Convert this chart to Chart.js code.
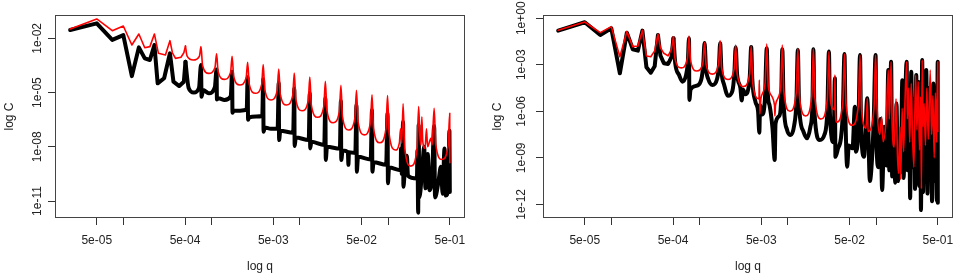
<!DOCTYPE html>
<html>
<head>
<meta charset="utf-8">
<script src="https://cdn.jsdelivr.net/npm/chart.js@4.4.1/dist/chart.umd.min.js"></script>
<style>
  html, body { margin: 0; padding: 0; background: #fff; overflow: hidden; }
  #wrap { position: relative; width: 957px; height: 276px; }
  .panel { position: absolute; top: 0; height: 276px; }
  #left { left: 0; width: 478px; }
  #right { left: 478px; width: 479px; }
</style>
</head>
<body>
<div id="wrap">
  <div class="panel" id="left"><canvas id="chartLeft" width="478" height="276"></canvas></div>
  <div class="panel" id="right"><canvas id="chartRight" width="479" height="276"></canvas></div>
</div>
<script>
// axis ticks
const xTickValues = [5e-5, 1e-4, 5e-4, 1e-3, 5e-3, 1e-2, 5e-2, 1e-1, 5e-1];
const xTickLabels = ['5e-05', '', '5e-04', '', '5e-03', '', '5e-02', '', '5e-01'];
const yTickValuesLeft = [1e-2, 1e-5, 1e-8, 1e-11];
const yTickLabelsLeft = ['1e-02', '1e-05', '1e-08', '1e-11'];
const yTickValuesRight = [1, 1e-3, 1e-6, 1e-9, 1e-12];
const yTickLabelsRight = ['1e+00', '1e-03', '1e-06', '1e-09', '1e-12'];

// left panel: q and log10(C)
const qLeftBlack = [
  2.5e-5, 5e-5, 7.5e-5, 1e-4, 1.25e-4, 1.5e-4, 1.75e-4, 2e-4, 2.25e-4, 2.45e-4,
  2.9e-4, 3.375e-4, 3.7e-4, 4.3e-4, 4.85e-4, 5.06e-4, 5.5e-4, 6.3e-4, 7.2e-4, 7.59e-4,
  7.7e-4, 8.0e-4, 9.3e-4, 1.09e-3, 1.139e-3, 1.15e-3, 1.2e-3, 1.4e-3, 1.65e-3, 1.709e-3,
  1.725e-3, 1.78e-3, 2.1e-3, 2.5e-3, 2.563e-3, 2.59e-3, 2.67e-3, 3.2e-3, 3.75e-3, 3.844e-3,
  3.88e-3, 4.0e-3, 4.7e-3, 5.6e-3, 5.767e-3, 5.82e-3, 6.0e-3, 8.4e-3, 8.65e-3, 8.73e-3,
  9.0e-3, 1.26e-2, 1.297e-2, 1.31e-2, 1.35e-2, 1.89e-2, 1.946e-2, 1.965e-2, 2.03e-2, 2.84e-2,
  2.919e-2, 2.945e-2, 3.05e-2, 3.5e-2, 3.55e-2, 3.6e-2, 4.25e-2, 4.379e-2, 4.42e-2, 4.56e-2,
  6.35e-2, 6.568e-2, 6.63e-2, 6.85e-2, 9.5e-2, 9.853e-2, 9.95e-2, 0.1025, 0.139, 0.14,
  0.143, 0.1478, 0.149, 0.154, 0.163, 0.168, 0.212, 0.215, 0.219, 0.2217,
  0.226, 0.245, 0.256, 0.265, 0.281, 0.295, 0.315, 0.3325, 0.34, 0.37,
  0.396, 0.415, 0.435, 0.45, 0.48, 0.495, 0.5
];
const logCLeftBlack = [
  -1.54, -1.17, -2.09, -1.82, -4.09, -2.50, -3.11, -3.2, -2.37, -4.49,
  -4.21, -2.83, -4.40, -4.64, -4.40, -3.3, -4.75, -5.0, -4.75, -3.48,
  -5.23, -4.86, -5.04, -4.7, -3.72, -5.38, -5.32, -5.41, -5.2, -3.85,
  -6.12, -6.0, -6.0, -5.95, -4.16, -6.5, -6.37, -6.33, -6.3, -4.27,
  -7.17, -6.93, -7.0, -7.0, -4.46, -7.63, -7.11, -7.22, -4.77, -7.96,
  -7.48, -7.63, -5.04, -8.09, -7.72, -7.9, -5.32, -8.73, -8.0, -8.1,
  -5.45, -8.73, -8.2, -8.3, -9.0, -8.3, -8.35, -5.69, -9.38, -8.55,
  -8.7, -5.97, -9.38, -8.85, -9.0, -6.15, -10.02, -9.15, -9.3, -8.1,
  -9.5, -6.62, -10.21, -9.45, -8.5, -9.6, -9.75, -8.2, -11.65, -6.80,
  -10.8, -9.0, -8.0, -10.3, -8.4, -10.4, -9.6, -6.85, -10.8, -10.0,
  -9.1, -10.6, -8.1, -10.7, -10.3, -7.11, -10.5
];
const qLeftRed = [
  2.5e-5, 5e-5, 7.5e-5, 1e-4, 1.25e-4, 1.5e-4, 1.75e-4, 2e-4, 2.25e-4, 2.5e-4,
  3e-4, 3.375e-4, 3.6e-4, 3.9e-4, 4.5e-4, 4.85e-4, 5.06e-4, 5.27e-4, 6.2e-4, 7.29e-4,
  7.59e-4, 7.9e-4, 9.3e-4, 1.093e-3, 1.139e-3, 1.186e-3, 1.395e-3, 1.64e-3, 1.709e-3, 1.779e-3,
  2.093e-3, 2.461e-3, 2.563e-3, 2.668e-3, 3.139e-3, 3.691e-3, 3.844e-3, 4.002e-3, 4.708e-3, 5.535e-3,
  5.767e-3, 6.003e-3, 7.063e-3, 8.304e-3, 8.65e-3, 9.005e-3, 1.0594e-2, 1.2456e-2, 1.297e-2, 1.35e-2,
  1.588e-2, 1.868e-2, 1.946e-2, 2.026e-2, 2.383e-2, 2.802e-2, 2.919e-2, 3.039e-2, 3.575e-2, 4.203e-2,
  4.379e-2, 4.559e-2, 5.363e-2, 6.306e-2, 6.568e-2, 6.837e-2, 8.044e-2, 9.458e-2, 9.853e-2, 0.1026,
  0.1207, 0.134, 0.1385, 0.1425, 0.1478, 0.1539, 0.181, 0.2128, 0.2217, 0.229,
  0.236, 0.241, 0.247, 0.262, 0.272, 0.28, 0.305, 0.315, 0.3192, 0.3325,
  0.3461, 0.4072, 0.4788, 0.4988, 0.5
];
const logCLeftRed = [
  -1.49, -0.93, -1.58, -1.32, -2.37, -1.76, -2.52, -2.46, -1.76, -2.83,
  -2.92, -2.13, -2.8, -3.11, -3.05, -2.8, -2.43, -2.97, -3.2, -2.98,
  -2.46, -3.50, -3.94, -3.61, -2.85, -3.84, -4.27, -3.89, -3.0, -4.11,
  -4.58, -4.20, -3.32, -4.52, -5.04, -4.56, -3.45, -4.82, -5.41, -4.90,
  -3.7, -5.09, -5.69, -5.16, -3.92, -5.38, -6.01, -5.45, -4.14, -5.70,
  -6.37, -5.77, -4.38, -5.98, -6.67, -6.05, -4.6, -6.33, -7.07, -6.41,
  -4.88, -6.60, -7.34, -6.67, -5.12, -6.98, -7.78, -6.99, -5.16, -7.27,
  -8.18, -7.8, -7.0, -7.8, -5.62, -8.04, -9.07, -8.08, -5.78, -7.4,
  -7.9, -6.34, -7.7, -8.09, -7.0, -8.0, -7.53, -7.9, -7.42, -5.87,
  -7.85, -8.70, -7.94, -6.15, -8.88
];

// right panel: q and log10(C)
const qRightBlack = [
  2.5e-5, 5e-5, 7.5e-5, 1e-4, 1.25e-4, 1.5e-4, 1.75e-4, 2e-4, 2.25e-4, 2.5e-4,
  2.8e-4, 3.1e-4, 3.375e-4, 3.6e-4, 3.94e-4, 4.4e-4, 4.8e-4, 5.06e-4, 5.3e-4, 5.86e-4,
  6.4e-4, 7.0e-4, 7.35e-4, 7.59e-4, 7.66e-4, 7.9e-4, 9.3e-4, 1.05e-3, 1.1e-3, 1.139e-3,
  1.18e-3, 1.25e-3, 1.4e-3, 1.58e-3, 1.66e-3, 1.709e-3, 1.77e-3, 1.9e-3, 2.1e-3, 2.35e-3,
  2.48e-3, 2.563e-3, 2.66e-3, 2.9e-3, 3.0e-3, 3.1e-3, 3.3e-3, 3.7e-3, 3.844e-3, 3.95e-3,
  4.3e-3, 4.6e-3, 4.75e-3, 4.85e-3, 5.1e-3, 5.5e-3, 5.767e-3, 5.95e-3, 6.2e-3, 6.7e-3,
  7.1e-3, 7.25e-3, 8.0e-3, 8.4e-3, 8.65e-3, 8.95e-3, 9.8e-3, 1.08e-2, 1.18e-2, 1.25e-2,
  1.297e-2, 1.34e-2, 1.5e-2, 1.65e-2, 1.8e-2, 1.9e-2, 1.946e-2, 2.0e-2, 2.3e-2, 2.6e-2,
  2.8e-2, 2.919e-2, 3.0e-2, 3.3e-2, 3.41e-2, 3.46e-2, 3.7e-2, 4.0e-2, 4.2e-2, 4.379e-2,
  4.5e-2, 4.7e-2, 4.9e-2, 5.4e-2, 5.75e-2, 5.9e-2, 6.3e-2, 6.568e-2, 6.75e-2, 7.3e-2,
  7.94e-2, 8.5e-2, 9.0e-2, 9.4e-2, 9.853e-2, 0.101, 0.106, 0.112, 0.117, 0.124,
  0.131, 0.1374, 0.141, 0.1478, 0.152, 0.158, 0.165, 0.17, 0.177, 0.184,
  0.19, 0.198, 0.205, 0.212, 0.2217, 0.227, 0.236, 0.243, 0.25, 0.26,
  0.268, 0.276, 0.285, 0.292, 0.3, 0.308, 0.316, 0.322, 0.3325, 0.34,
  0.35, 0.36, 0.37, 0.382, 0.393, 0.405, 0.418, 0.43, 0.445, 0.46,
  0.475, 0.488, 0.4988, 0.5
];
const logCRightBlack = [
  -0.80, -0.26, -1.08, -0.65, -3.55, -0.93, -2.0, -2.09, -0.80, -3.16,
  -3.51, -3.1, -1.08, -2.4, -2.9, -2.95, -2.5, -1.29, -2.9, -3.66,
  -4.09, -3.7, -2.9, -1.29, -5.27, -4.6, -4.35, -3.9, -3.0, -1.6,
  -3.2, -3.9, -4.3, -3.9, -3.0, -1.61, -3.4, -4.3, -5.0, -4.7,
  -3.5, -1.87, -3.6, -4.5, -5.3, -4.6, -4.9, -3.8, -1.85, -3.9,
  -5.4, -6.0, -7.38, -5.6, -6.2, -5.2, -1.94, -5.0, -5.6, -7.1,
  -9.14, -6.8, -6.3, -5.2, -2.0, -5.4, -7.2, -7.53, -6.9, -5.4,
  -2.04, -5.6, -7.3, -7.74, -7.0, -5.6, -2.0, -6.0, -7.85, -7.5,
  -6.0, -2.15, -6.2, -8.0, -3.87, -8.93, -8.4, -7.7, -6.0, -2.30,
  -6.5, -9.57, -8.2, -8.39, -5.7, -8.6, -7.0, -2.37, -7.0, -8.93,
  -5.16, -10.5, -9.0, -6.5, -2.37, -8.0, -9.6, -6.5, -11.08, -7.0,
  -9.5, -3.34, -9.8, -2.80, -10.2, -8.0, -10.6, -5.5, -10.5, -7.5,
  -9.9, -4.0, -10.3, -6.2, -2.80, -9.8, -4.6, -11.6, -3.45, -9.6,
  -5.2, -11.0, -3.66, -10.1, -4.09, -10.8, -5.06, -12.37, -2.69, -11.2,
  -6.0, -10.4, -3.34, -11.3, -4.5, -10.0, -5.5, -11.8, -4.2, -10.5,
  -7.0, -11.8, -2.80, -11.9
];
const qRightRed = [
  2.5e-5, 5e-5, 7.5e-5, 1e-4, 1.25e-4, 1.5e-4, 1.75e-4, 2e-4, 2.25e-4, 2.5e-4,
  2.8e-4, 3.1e-4, 3.375e-4, 3.6e-4, 3.94e-4, 4.4e-4, 4.8e-4, 5.06e-4, 5.27e-4, 6.2e-4,
  7.29e-4, 7.59e-4, 7.9e-4, 9.3e-4, 1.093e-3, 1.139e-3, 1.186e-3, 1.395e-3, 1.64e-3, 1.709e-3,
  1.779e-3, 2.093e-3, 2.461e-3, 2.563e-3, 2.668e-3, 3.139e-3, 3.691e-3, 3.844e-3, 4.002e-3, 4.708e-3,
  4.75e-3, 4.82e-3, 4.95e-3, 5.535e-3, 5.767e-3, 6.003e-3, 7.063e-3, 7.13e-3, 7.25e-3, 8.304e-3,
  8.65e-3, 9.005e-3, 1.0594e-2, 1.2456e-2, 1.297e-2, 1.35e-2, 1.588e-2, 1.868e-2, 1.946e-2, 2.026e-2,
  2.383e-2, 2.802e-2, 2.919e-2, 3.039e-2, 3.38e-2, 3.41e-2, 3.46e-2, 3.575e-2, 4.203e-2, 4.379e-2,
  4.559e-2, 5.363e-2, 6.306e-2, 6.568e-2, 6.837e-2, 7.7e-2, 7.94e-2, 8.1e-2, 9.458e-2, 9.853e-2,
  0.103, 0.11, 0.1156, 0.12, 0.13, 0.1374, 0.141, 0.1478, 0.152, 0.16,
  0.168, 0.175, 0.18, 0.186, 0.19, 0.197, 0.205, 0.212, 0.2217, 0.226,
  0.233, 0.24, 0.25, 0.258, 0.268, 0.28, 0.29, 0.3, 0.31, 0.32,
  0.326, 0.3325, 0.34, 0.35, 0.362, 0.375, 0.39, 0.41, 0.425, 0.44,
  0.455, 0.47, 0.485, 0.4988, 0.5
];
const logCRightRed = [
  -0.78, -0.24, -0.93, -0.54, -2.48, -0.86, -1.83, -1.79, -0.78, -2.43,
  -2.48, -2.1, -1.03, -1.9, -2.26, -2.43, -2.0, -1.19, -2.60, -3.2,
  -2.58, -1.14, -2.72, -3.4, -2.85, -1.57, -2.99, -3.6, -2.95, -1.44,
  -3.20, -3.95, -3.28, -1.72, -3.60, -4.4, -3.62, -1.79, -4.18, -5.2,
  -3.98, -6.17, -5.2, -4.14, -1.66, -4.42, -5.6, -6.3, -5.6, -4.44,
  -1.72, -4.72, -6.0, -4.78, -1.94, -4.99, -6.3, -5.0, -1.97, -5.14,
  -6.5, -5.20, -2.15, -5.34, -5.9, -3.66, -6.0, -6.7, -5.38, -2.30,
  -5.52, -6.9, -5.54, -2.37, -5.82, -7.1, -5.16, -7.3, -5.82, -2.37,
  -6.0, -7.5, -6.35, -7.96, -6.5, -3.34, -6.5, -2.80, -6.8, -8.3,
  -5.2, -9.0, -10.0, -7.0, -10.4, -5.8, -8.6, -5.5, -2.80, -6.5,
  -4.5, -8.0, -4.2, -7.5, -9.6, -3.66, -7.2, -4.09, -8.5, -5.06,
  -11.0, -2.69, -7.0, -5.5, -8.2, -4.5, -7.8, -3.34, -7.5, -5.0,
  -9.0, -4.8, -8.0, -2.80, -7.3
];

// the first points (up to q = 5.06e-4) are joined with straight segments,
// the dense part after that with a monotone curve
const SPLIT_Q = 5.06e-4;

const FONT = { family: "'Liberation Sans', Arial, sans-serif", size: 12 };
const INK = '#222';

function toPoints(qs, logs) {
  return qs.map((q, i) => ({ x: q, y: Math.pow(10, logs[i]) }));
}

// one colour, two datasets: straight head + smooth tail sharing the split point
function seriesSets(qs, logs, color, width, order) {
  const pts = toPoints(qs, logs);
  const k = qs.indexOf(SPLIT_Q);
  const base = { borderColor: color, borderWidth: width, order: order };
  return [
    Object.assign({ data: pts.slice(0, k + 1), cubicInterpolationMode: 'default', tension: 0 }, base),
    Object.assign({ data: pts.slice(k), cubicInterpolationMode: 'monotone' }, base)
  ];
}

// R style box around the plot region
const boxPlugin = {
  id: 'box',
  beforeDatasetsDraw(chart) {
    const { ctx, chartArea: a } = chart;
    ctx.save();
    ctx.strokeStyle = '#444';
    ctx.lineWidth = 1;
    ctx.strokeRect(a.left + 0.5, a.top + 0.5, a.right - a.left - 1, a.bottom - a.top - 1);
    ctx.restore();
  }
};

function makeChart(id, cfg) {
  return new Chart(document.getElementById(id), {
    type: 'line',
    data: {
      datasets: [
        ...seriesSets(cfg.redQ, cfg.redLogC, '#ff0000', 1.6, 0),
        ...seriesSets(cfg.blackQ, cfg.blackLogC, '#000000', 4, 1)
      ]
    },
    options: {
      responsive: false,
      animation: false,
      devicePixelRatio: 1,
      layout: { padding: { left: 0, right: cfg.padRight, top: 15, bottom: 0 } },
      elements: {
        point: { radius: 0, hoverRadius: 0 },
        line: { borderJoinStyle: 'round', borderCapStyle: 'round', fill: false }
      },
      plugins: { legend: { display: false }, tooltip: { enabled: false } },
      scales: {
        x: {
          type: 'logarithmic',
          min: 1.683e-5,
          max: 0.743,
          bounds: 'data',
          afterBuildTicks: axis => { axis.ticks = xTickValues.map(v => ({ value: v })); },
          afterFit: axis => { axis.height = 58; axis.paddingLeft = 0; axis.paddingRight = 0; },
          grid: { drawOnChartArea: false, drawTicks: true, tickLength: 7, color: '#333', tickColor: '#333' },
          border: { display: false },
          ticks: {
            autoSkip: false, minRotation: 0, maxRotation: 0, padding: 8, color: INK, font: FONT,
            callback: (v, i) => xTickLabels[i]
          },
          title: { display: true, text: 'log q', color: INK, font: FONT, padding: { top: 0, bottom: 2 } }
        },
        y: {
          type: 'logarithmic',
          min: cfg.yMin,
          max: cfg.yMax,
          bounds: 'data',
          afterBuildTicks: axis => { axis.ticks = cfg.yTicks.map(v => ({ value: v })); },
          afterFit: axis => { axis.width = cfg.yWidth; axis.paddingTop = 0; axis.paddingBottom = 0; },
          grid: { drawOnChartArea: false, drawTicks: true, tickLength: 7, color: '#333', tickColor: '#333' },
          border: { display: false },
          ticks: {
            autoSkip: false, minRotation: 90, maxRotation: 90, crossAlign: 'center',
            padding: cfg.yTickPad, color: INK, font: FONT,
            callback: (v, i) => cfg.yLabels[i]
          },
          title: { display: true, text: 'log C', color: INK, font: FONT, padding: { top: cfg.yTitlePad, bottom: 0 } }
        }
      }
    },
    plugins: [boxPlugin]
  });
}

makeChart('chartLeft', {
  redQ: qLeftRed, redLogC: logCLeftRed,
  blackQ: qLeftBlack, blackLogC: logCLeftBlack,
  yMin: 1.15e-12, yMax: 0.195,
  yTicks: yTickValuesLeft, yLabels: yTickLabelsLeft,
  yWidth: 55, yTickPad: -5, yTitlePad: 2, padRight: 13
});

makeChart('chartRight', {
  redQ: qRightRed, redLogC: logCRightRed,
  blackQ: qRightBlack, blackLogC: logCRightBlack,
  yMin: 1.32e-13, yMax: 1.62,
  yTicks: yTickValuesRight, yLabels: yTickLabelsRight,
  yWidth: 65, yTickPad: -3, yTitlePad: 12, padRight: 4
});
</script>
</body>
</html>
